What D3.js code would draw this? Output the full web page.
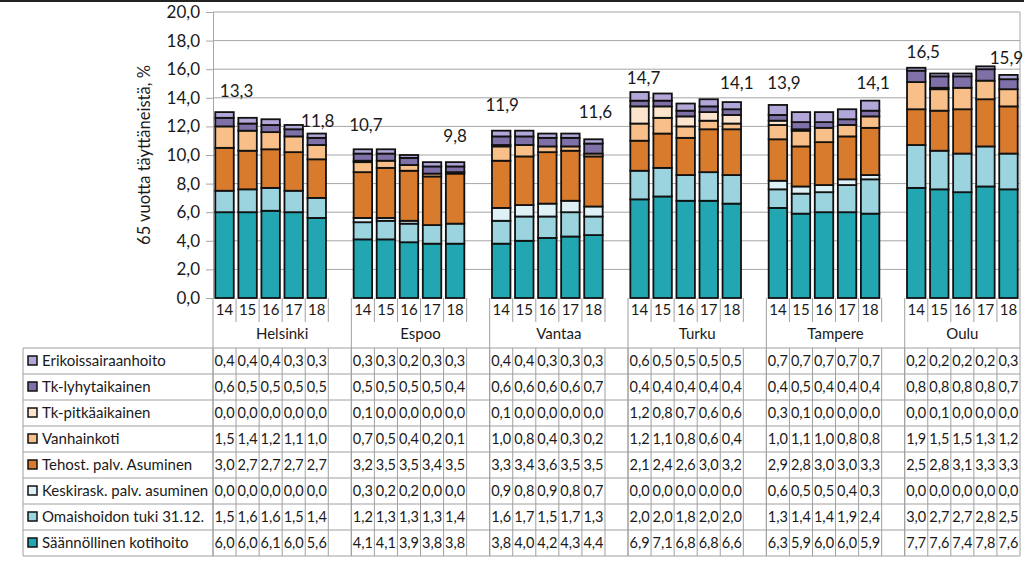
<!DOCTYPE html>
<html>
<head>
<meta charset="utf-8">
<script src="https://cdnjs.cloudflare.com/ajax/libs/d3/7.8.5/d3.min.js"></script>
<style>
  body { margin: 0; background: #fff; }
  svg { display: block; font-family: Lato, "Open Sans", sans-serif; }
</style>
</head>
<body>
<div id="chart"></div>
<script>
// data
const cities = ['Helsinki', 'Espoo', 'Vantaa', 'Turku', 'Tampere', 'Oulu']
const years = ['14', '15', '16', '17', '18']

// one array per series, city by city, years 14..18
const erikoissairaanhoito = [0.4,0.4,0.4,0.3,0.3, 0.3,0.3,0.2,0.3,0.3, 0.4,0.4,0.3,0.3,0.3, 0.6,0.5,0.5,0.5,0.5, 0.7,0.7,0.7,0.7,0.7, 0.2,0.2,0.2,0.2,0.3]
const tkLyhytaikainen = [0.6,0.5,0.5,0.5,0.5, 0.5,0.5,0.5,0.5,0.4, 0.6,0.6,0.6,0.6,0.7, 0.4,0.4,0.4,0.4,0.4, 0.4,0.5,0.4,0.4,0.4, 0.8,0.8,0.8,0.8,0.7]
const tkPitkaaikainen = [0.0,0.0,0.0,0.0,0.0, 0.1,0.0,0.0,0.0,0.0, 0.1,0.0,0.0,0.0,0.0, 1.2,0.8,0.7,0.6,0.6, 0.3,0.1,0.0,0.0,0.0, 0.0,0.1,0.0,0.0,0.0]
const vanhainkoti = [1.5,1.4,1.2,1.1,1.0, 0.7,0.5,0.4,0.2,0.1, 1.0,0.8,0.4,0.3,0.2, 1.2,1.1,0.8,0.6,0.4, 1.0,1.1,1.0,0.8,0.8, 1.9,1.5,1.5,1.3,1.2]
const tehostAsuminen = [3.0,2.7,2.7,2.7,2.7, 3.2,3.5,3.5,3.4,3.5, 3.3,3.4,3.6,3.5,3.5, 2.1,2.4,2.6,3.0,3.2, 2.9,2.8,3.0,3.0,3.3, 2.5,2.8,3.1,3.3,3.3]
const keskiraskAsuminen = [0.0,0.0,0.0,0.0,0.0, 0.3,0.2,0.2,0.0,0.0, 0.9,0.8,0.9,0.8,0.7, 0.0,0.0,0.0,0.0,0.0, 0.6,0.5,0.5,0.4,0.3, 0.0,0.0,0.0,0.0,0.0]
const omaishoidonTuki = [1.5,1.6,1.6,1.5,1.4, 1.2,1.3,1.3,1.3,1.4, 1.6,1.7,1.5,1.7,1.3, 2.0,2.0,1.8,2.0,2.0, 1.3,1.4,1.4,1.9,2.4, 3.0,2.7,2.7,2.8,2.5]
const saannollinenKotihoito = [6.0,6.0,6.1,6.0,5.6, 4.1,4.1,3.9,3.8,3.8, 3.8,4.0,4.2,4.3,4.4, 6.9,7.1,6.8,6.8,6.6, 6.3,5.9,6.0,6.0,5.9, 7.7,7.6,7.4,7.8,7.6]

// totals shown above first and last bar of each city
const totalFirst = [13.3, 10.7, 11.9, 14.7, 13.9, 16.5]
const totalLast = [11.8, 9.8, 11.6, 14.1, 14.1, 15.9]

const yTicks = [0, 2, 4, 6, 8, 10, 12, 14, 16, 18, 20]

// bottom to top stacking order
const series = [
  { name: 'Säännöllinen kotihoito', values: saannollinenKotihoito, color: '#22a6b1' },
  { name: 'Omaishoidon tuki 31.12.', values: omaishoidonTuki, color: '#9bd4de' },
  { name: 'Keskirask. palv. asuminen', values: keskiraskAsuminen, color: '#ddf1f6' },
  { name: 'Tehost. palv. Asuminen', values: tehostAsuminen, color: '#d97b2d' },
  { name: 'Vanhainkoti', values: vanhainkoti, color: '#f8bf88' },
  { name: 'Tk-pitkäaikainen', values: tkPitkaaikainen, color: '#fde5cd' },
  { name: 'Tk-lyhytaikainen', values: tkLyhytaikainen, color: '#7f70a8' },
  { name: 'Erikoissairaanhoito', values: erikoissairaanhoito, color: '#b3a6d8' }
]

const width = 1024
const height = 582
const plotLeft = 213
const plotRight = 1020
const plotTop = 12
const base = 298
const tableTop = 348
const rowH = 26
const tableLeft = 23

const fmt = d => d.toFixed(1).replace('.', ',')

// 6 slots per city (5 years + a blank), last city has no trailing blank
const slots = d3.range(cities.length * 6 - 1)
const slotOf = (ci, yi) => ci * 6 + yi

const x = d3.scaleBand().domain(slots).range([plotLeft, plotRight]).paddingInner(0).paddingOuter(0)
const xw = x.bandwidth()
const barPad = 2.3
const y = d3.scaleLinear().domain([0, 20]).range([base, plotTop])

const svg = d3.select('#chart').append('svg')
  .attr('width', width)
  .attr('height', height)

// top border of the frame
svg.append('line')
  .attr('x1', 0).attr('x2', width).attr('y1', 1).attr('y2', 1)
  .attr('stroke', '#222').attr('stroke-width', 2)

// gridlines
svg.append('g').selectAll('line')
  .data(yTicks.filter(d => d > 0))
  .join('line')
    .attr('x1', plotLeft).attr('x2', plotRight)
    .attr('y1', d => y(d)).attr('y2', d => y(d))
    .attr('stroke', '#a6a6a6').attr('stroke-width', 1)

// right edge of plot area
svg.append('line')
  .attr('x1', plotRight).attr('x2', plotRight)
  .attr('y1', plotTop).attr('y2', base)
  .attr('stroke', '#a6a6a6')

// y axis
const yAxis = svg.append('g')
  .attr('transform', 'translate(' + plotLeft + ',0)')
  .call(d3.axisLeft(y).tickValues(yTicks).tickFormat(fmt).tickSize(7).tickPadding(6))
yAxis.select('.domain').attr('stroke', '#a6a6a6')
yAxis.selectAll('.tick line').attr('stroke', '#a6a6a6')
yAxis.selectAll('.tick text')
  .attr('font-size', 17).attr('fill', '#1a1a1a').attr('font-family', 'Lato, sans-serif')

svg.append('text')
  .attr('transform', 'translate(150,' + 155 + ') rotate(-90)')
  .attr('text-anchor', 'middle')
  .attr('font-size', 16.5)
  .attr('fill', '#1a1a1a')
  .text('65 vuotta täyttäneistä, %')

// stacked bars
const rows = []
cities.forEach((c, ci) => years.forEach((yr, yi) => {
  const r = { slot: slotOf(ci, yi) }
  series.forEach((s, si) => { r['s' + si] = s.values[ci * 5 + yi] })
  rows.push(r)
}))
const stack = d3.stack().keys(series.map((s, si) => 's' + si))(rows)

svg.append('g').selectAll('g')
  .data(stack)
  .join('g')
    .attr('fill', (d, i) => series[i].color)
  .selectAll('rect')
  .data(d => d.filter(p => p[1] - p[0] > 0))
  .join('rect')
    .attr('x', d => x(d.data.slot) + barPad)
    .attr('width', xw - 2 * barPad)
    .attr('y', d => y(d[1]))
    .attr('height', d => y(d[0]) - y(d[1]))
    .attr('stroke', '#111')
    .attr('stroke-width', 1.8)

// total labels
const labelNudge = [
  { dx: 12, dy: -17 }, { dx: 1, dy: -8 },
  { dx: 3, dy: -20 }, { dx: 0, dy: -22 },
  { dx: 1, dy: -23 }, { dx: 2, dy: -20 },
  { dx: 4, dy: -10 }, { dx: 5, dy: -13 },
  { dx: 6, dy: -16 }, { dx: 3, dy: -13 },
  { dx: 7, dy: -10 }, { dx: -2, dy: -13 }
]
const labels = []
cities.forEach((c, ci) => {
  labels.push({ slot: slotOf(ci, 0), v: totalFirst[ci] })
  labels.push({ slot: slotOf(ci, 4), v: totalLast[ci] })
})
svg.append('g').selectAll('text')
  .data(labels)
  .join('text')
    .attr('x', (d, i) => x(d.slot) + xw / 2 + labelNudge[i].dx)
    .attr('y', (d, i) => y(d.v) + labelNudge[i].dy)
    .attr('dy', '0.35em')
    .attr('text-anchor', 'middle')
    .attr('font-size', 17)
    .attr('fill', '#1a1a1a')
    .text(d => fmt(d.v))

// category rows under the plot: years and cities
const gridCol = '#a0a0a0'
const tableBottom = tableTop + rowH * series.length
const axisG = svg.append('g')
slots.concat([slots.length]).forEach(s => {
  const xx = s < slots.length ? x(s) : plotRight
  const isGroup = s % 6 === 0 || s === slots.length
  axisG.append('line')
    .attr('x1', xx).attr('x2', xx)
    .attr('y1', base)
    .attr('y2', isGroup ? tableBottom : base + 24)
    .attr('stroke', gridCol)
})
cities.forEach((c, ci) => {
  years.forEach((yr, yi) => {
    axisG.append('text')
      .attr('x', x(slotOf(ci, yi)) + xw / 2)
      .attr('y', 310).attr('dy', '0.35em')
      .attr('text-anchor', 'middle')
      .attr('font-size', 15).attr('fill', '#1a1a1a')
      .text(yr)
  })
  const x0 = x(slotOf(ci, 0))
  const x1 = ci < cities.length - 1 ? x(slotOf(ci + 1, 0)) : plotRight
  axisG.append('text')
    .attr('x', (x0 + x1) / 2)
    .attr('y', 334).attr('dy', '0.35em')
    .attr('text-anchor', 'middle')
    .attr('font-size', 15).attr('fill', '#1a1a1a')
    .text(c)
})

// data table, top row is the top series
const tableG = svg.append('g')
const tableRows = series.slice().reverse()
d3.range(tableRows.length + 1).forEach(i => {
  tableG.append('line')
    .attr('x1', tableLeft).attr('x2', plotRight)
    .attr('y1', tableTop + i * rowH).attr('y2', tableTop + i * rowH)
    .attr('stroke', gridCol)
})
tableG.append('line')
  .attr('x1', tableLeft).attr('x2', tableLeft)
  .attr('y1', tableTop).attr('y2', tableBottom)
  .attr('stroke', gridCol)
slots.forEach(s => {
  tableG.append('line')
    .attr('x1', x(s)).attr('x2', x(s))
    .attr('y1', tableTop).attr('y2', tableBottom)
    .attr('stroke', gridCol)
})

tableRows.forEach((s, ri) => {
  const cy = tableTop + ri * rowH + rowH / 2
  tableG.append('rect')
    .attr('x', 28).attr('y', cy - 5)
    .attr('width', 9).attr('height', 9)
    .attr('fill', s.color)
    .attr('stroke', '#111').attr('stroke-width', 1.5)
  tableG.append('text')
    .attr('x', 42).attr('y', cy).attr('dy', '0.35em')
    .attr('font-size', 15).attr('fill', '#1a1a1a')
    .text(s.name)
  cities.forEach((c, ci) => years.forEach((yr, yi) => {
    tableG.append('text')
      .attr('x', x(slotOf(ci, yi)) + xw / 2)
      .attr('y', cy).attr('dy', '0.35em')
      .attr('text-anchor', 'middle')
      .attr('font-size', 14.5).attr('fill', '#1a1a1a')
      .text(fmt(s.values[ci * 5 + yi]))
  }))
})
</script>
</body>
</html>
